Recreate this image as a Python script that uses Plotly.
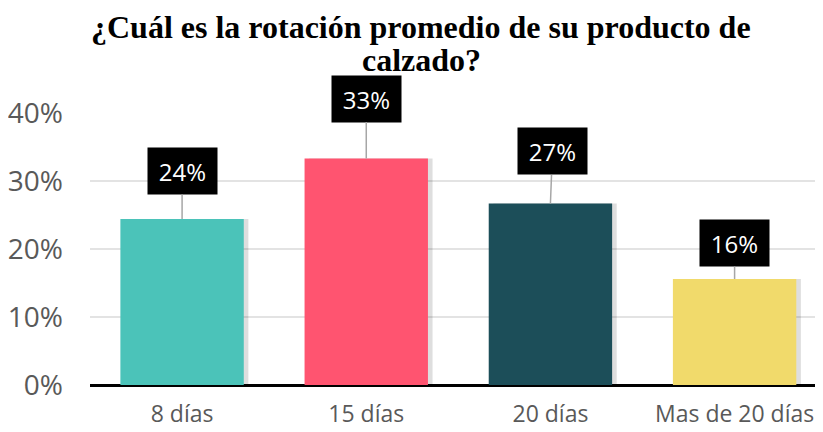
import plotly.graph_objects as go

categories = ["8 días", "15 días", "20 días", "Mas de 20 días"]
values = [0.244, 0.333, 0.267, 0.156]
labels = ["24%", "33%", "27%", "16%"]
colors = ["#4BC3B9", "#FF5470", "#1C4E59", "#F1DA6B"]
label_offsets = [-48, -60, -52, -36]
label_dx = [0, 0, 2, 0]
title_lines = ["¿Cuál es la rotación promedio de su producto de", "calzado?"]

fig = go.Figure()

# soft shadow behind bars
fig.add_trace(go.Bar(
    x=categories, y=values, width=0.67, offset=-0.335 + 0.025,
    marker=dict(color="rgba(0,0,0,0.13)", line=dict(width=0)),
    hoverinfo="skip", showlegend=False,
))
fig.add_trace(go.Bar(
    x=categories, y=values, width=0.67, offset=-0.335,
    marker=dict(color=colors, line=dict(width=0)),
    showlegend=False,
))

for c, v, t, ay, ax in zip(categories, values, labels, label_offsets, label_dx):
    fig.add_annotation(
        x=c, y=v, text=t, showarrow=True, arrowhead=0, arrowwidth=1.5,
        arrowcolor="#A6A6A6", ax=ax, ay=ay, bgcolor="black",
        font=dict(family="Open Sans", size=24, color="white"),
        width=67, height=44, xref="x", yref="y",
    )

for txt, ty in zip(title_lines, [1.316, 1.195]):
    fig.add_annotation(
        text="<b>" + txt + "</b>", xref="paper", yref="paper",
        x=0.452, y=ty, xanchor="center", yanchor="middle", showarrow=False,
        font=dict(family="Liberation Serif", size=32, color="black"),
    )

fig.update_layout(
    width=815, height=424,
    paper_bgcolor="white", plot_bgcolor="white",
    barmode="overlay",
    margin=dict(l=82, r=0, t=105, b=47),
    xaxis=dict(
        range=[-0.5, 3.48], showgrid=False, ticks="",
        tickfont=dict(family="Open Sans", size=23, color="#595959"),
        ticklabelstandoff=13, showline=False, zeroline=False,
    ),
    yaxis=dict(
        range=[0, 0.40], tickvals=[0, 0.1, 0.2, 0.3, 0.4],
        tickformat=".0%", showgrid=True, gridcolor="#E3E3E3", gridwidth=1.5,
        zeroline=True, zerolinecolor="black", zerolinewidth=3,
        tickfont=dict(family="Open Sans", size=28, color="#595959"),
        ticks="", ticklabelstandoff=26,
    ),
)

fig.write_html("out.html")
